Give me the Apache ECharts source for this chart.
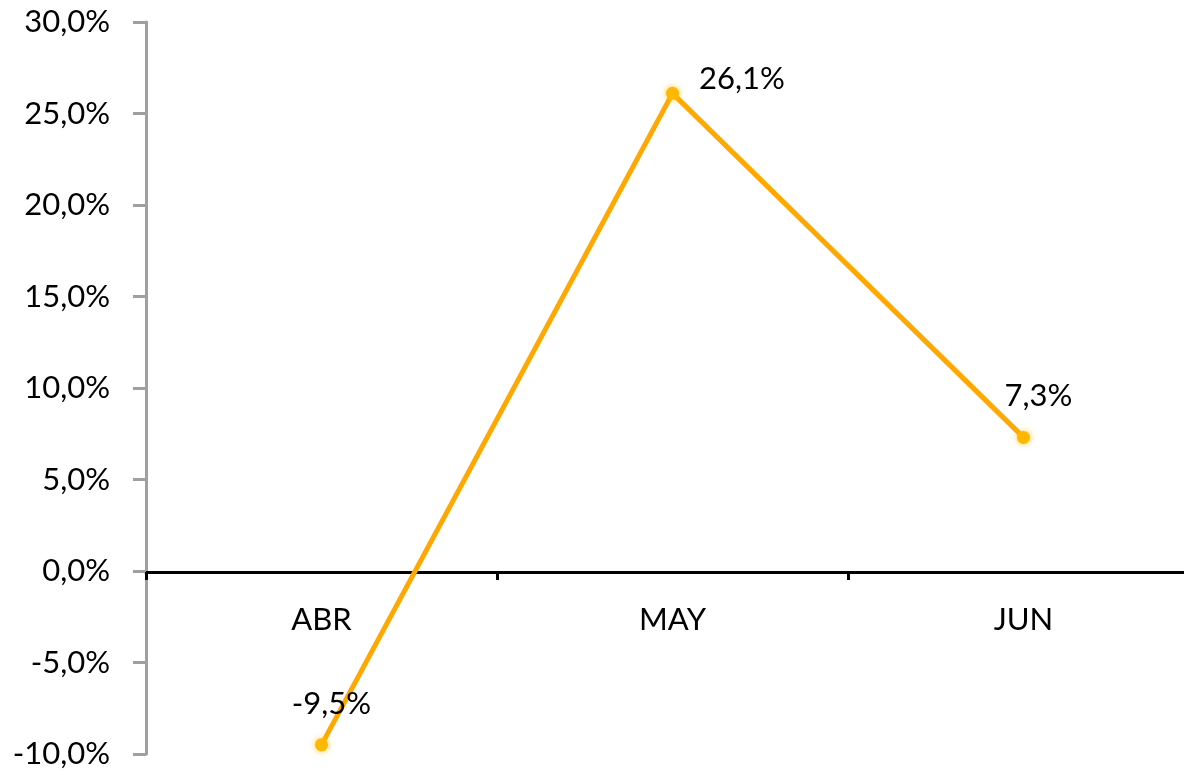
<!DOCTYPE html>
<html><head><meta charset="utf-8">
<script src="https://cdn.jsdelivr.net/npm/echarts@6/dist/echarts.min.js"></script>
<style>html,body{margin:0;padding:0;background:#fff}#c{width:1184px;height:775px}</style>
</head><body><div id="c"></div>
<script>
const categories = ['ABR', 'MAY', 'JUN'];
const values = [-9.5, 26.1, 7.3];
const yMin = -10, yMax = 30, yStep = 5;

const fmt = v => v.toFixed(1).replace('.', ',') + '%';
const labelCfg = [
  {position: 'top', offset: [10, -14]},
  {position: 'right', offset: [15, -14]},
  {position: 'top', offset: [15, -14]}
];
const chart = echarts.init(document.getElementById('c'));
chart.setOption({
  animation: false,
  textStyle: {fontFamily: 'Lato'},
  grid: {left: 146, right: -15, top: 22, bottom: 21, containLabel: false, outerBoundsMode: 'none'},
  xAxis: {
    type: 'category', data: categories, boundaryGap: true,
    offset: -182,
    axisLine: {onZero: false, lineStyle: {color: '#000', width: 3}},
    axisTick: {show: true, length: 8, lineStyle: {color: '#000', width: 3}},
    axisLabel: {color: '#000', fontSize: 31, margin: 32, fontFamily: 'Lato'}
  },
  yAxis: {
    type: 'value', min: yMin, max: yMax, interval: yStep,
    axisLine: {show: true, lineStyle: {color: '#a0a0a0', width: 3}},
    axisTick: {show: true, length: 13, lineStyle: {color: '#a0a0a0', width: 3}},
    splitLine: {show: false},
    axisLabel: {color: '#000', fontSize: 31, margin: 36, fontFamily: 'Lato', formatter: v => fmt(v)}
  },
  series: [{
    type: 'line',
    data: values.map((v, i) => ({value: v, label: labelCfg[i]})),
    lineStyle: {color: '#FFA800', width: 5},
    symbol: 'circle', symbolSize: 13,
    itemStyle: {color: '#FFB800', shadowColor: 'rgba(255,190,0,0.8)', shadowBlur: 6},
    label: {show: true, color: '#000', fontSize: 31, fontFamily: 'Lato', formatter: p => fmt(p.value)}
  }]
});
</script></body></html>
